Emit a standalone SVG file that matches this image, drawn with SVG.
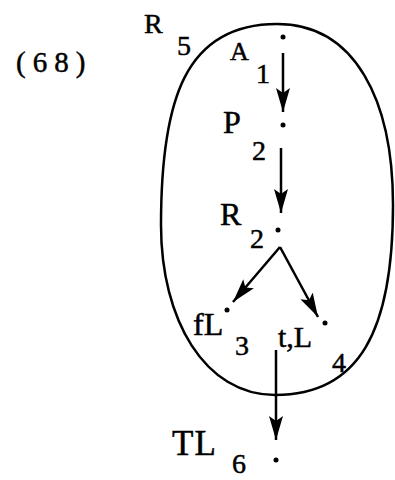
<svg xmlns="http://www.w3.org/2000/svg" width="395" height="480" viewBox="0 0 395 480">
<style>
text{font-family:"Liberation Serif","DejaVu Serif",serif;font-size:32px;fill:#000;stroke:#000;stroke-width:0.5}
.s{font-size:28px}
.c{fill:none;stroke:#000;stroke-width:2.5}
.d{fill:#000}
</style>
<defs>
<marker id="ah" markerUnits="userSpaceOnUse" markerWidth="26" markerHeight="16" refX="24" refY="7" orient="auto">
<path d="M0,0 L24,7 L0,14 L5,7 Z" fill="#000"/>
</marker>
</defs>
<rect width="395" height="480" fill="#fff"/>
<text x="16" y="72" style="font-size:29px;letter-spacing:7px">(68)</text>
<g id="R5">
<path class="c" d="M277,24 C355,24 393,100 393,205 C393,330 360,395 275,395 C205,395 161,320 161,225 C161,100 185,24 277,24 Z"/>
<text x="144" y="33" style="font-size:28px">R</text><text x="177" y="55" class="s">5</text>
</g>
<g id="A1"><circle class="d" cx="283" cy="37" r="2.5"/><text x="230" y="60" style="font-size:26px">A</text><text x="256" y="83" class="s">1</text></g>
<g id="P2"><circle class="d" cx="283" cy="125" r="2.5"/><text x="223" y="133">P</text><text x="252" y="160" class="s">2</text></g>
<g id="R2"><circle class="d" cx="278" cy="230" r="2.5"/><text x="220" y="225">R</text><text x="250" y="248" class="s">2</text></g>
<g id="fL3"><circle class="d" cx="227" cy="310" r="2.5"/><text x="193" y="335">fL</text><text x="235" y="355" class="s">3</text></g>
<g id="tL4"><circle class="d" cx="325" cy="323" r="2.5"/><text x="278" y="347" style="font-size:30px">t,L</text><text x="332" y="372" class="s">4</text></g>
<g id="TL6"><circle class="d" cx="276" cy="460" r="2.5"/><text x="172" y="455" style="font-size:35px;letter-spacing:1px">TL</text><text x="232" y="473" class="s">6</text></g>
<g id="connectors">
<line class="c" x1="283" y1="53" x2="283" y2="112" marker-end="url(#ah)"/>
<line class="c" x1="281" y1="148" x2="281" y2="213" marker-end="url(#ah)"/>
<line class="c" x1="280" y1="247" x2="233" y2="302" marker-end="url(#ah)"/>
<line class="c" x1="280" y1="247" x2="318" y2="317" marker-end="url(#ah)"/>
<line class="c" x1="276" y1="350" x2="276" y2="440" marker-end="url(#ah)"/>
</g>
</svg>
